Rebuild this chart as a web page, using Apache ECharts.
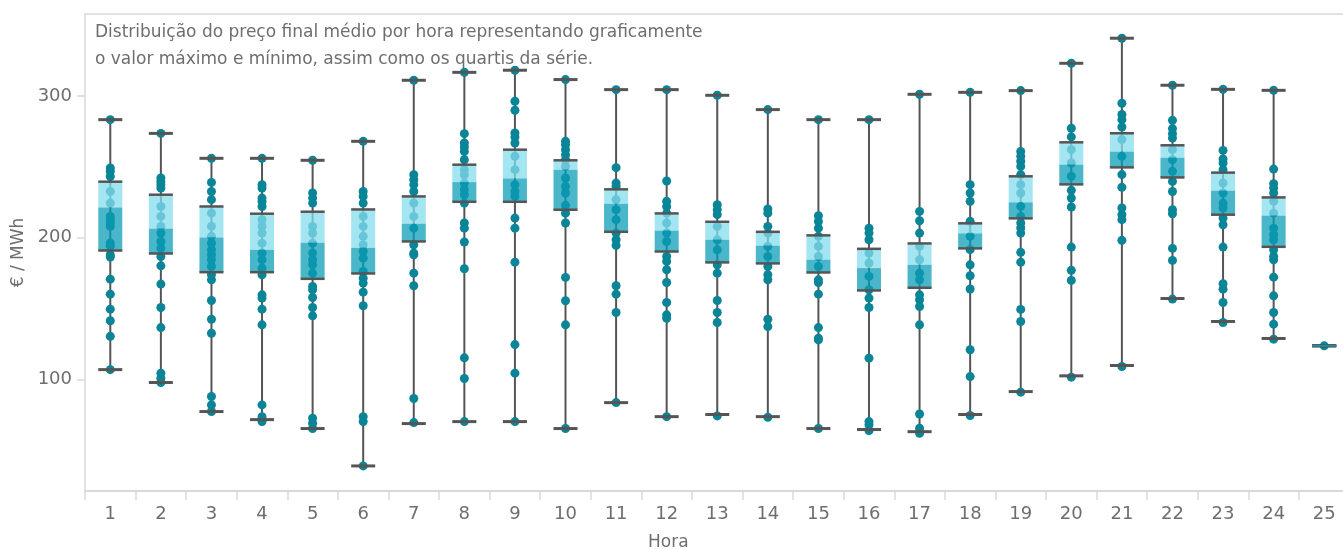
<!DOCTYPE html>
<html>
<head>
<meta charset="utf-8">
<script src="https://cdn.jsdelivr.net/npm/echarts@6/dist/echarts.min.js"></script>
<style>
html,body{margin:0;padding:0;background:#fff;}
#chart{width:1343px;height:550px;}
</style>
</head>
<body>
<div id="chart"></div>
<script>
const hours = ['1','2','3','4','5','6','7','8','9','10','11','12','13','14','15','16','17','18','19','20','21','22','23','24','25'];
const mins    = [106.9, 97.8, 77.3, 71.6, 65.3, 38.9, 68.8, 70.2, 70.2, 65.3, 83.6, 73.7, 75.2, 73.7, 65.3, 64.6, 63.1, 75.2, 91.4, 102.5, 109.8, 157.1, 140.9, 128.9, 123.7];
const q1s     = [191.0, 188.9, 175.7, 175.7, 171.0, 174.8, 197.4, 225.4, 225.4, 219.8, 204.2, 190.3, 182.6, 181.9, 175.5, 162.8, 164.7, 192.5, 213.7, 237.7, 249.7, 242.6, 216.3, 193.6, 123.7];
const medians = [221.4, 206.4, 200.2, 191.5, 196.5, 192.9, 209.9, 239.3, 241.9, 248.1, 224.0, 205.0, 198.6, 194.4, 184.5, 178.6, 180.9, 203.1, 225.0, 251.6, 260.8, 256.5, 233.2, 215.6, 123.7];
const q3s     = [239.6, 230.4, 222.1, 217.0, 218.4, 220.0, 229.2, 251.6, 262.2, 254.7, 234.2, 217.2, 211.3, 204.2, 201.7, 192.2, 196.0, 210.2, 243.4, 267.4, 273.8, 265.3, 246.0, 228.5, 123.7];
const maxs    = [283.4, 273.7, 256.1, 256.1, 254.7, 268.1, 311.2, 316.8, 318.3, 311.7, 304.6, 304.6, 300.6, 290.5, 283.4, 283.4, 301.3, 302.7, 303.9, 323.2, 340.9, 307.7, 304.8, 304.1, 123.7];
const dots = [
  [283.4, 249.3, 247, 243.3, 232.7, 224.5, 215, 212.7, 210.4, 208, 196.3, 194.1, 188, 186.4, 170.8, 160.2, 149.6, 141.4, 130.4, 106.9],
  [273.7, 242.2, 239.8, 237.5, 235.1, 222.1, 215.1, 208, 203.3, 197.4, 192.7, 186.8, 180.2, 167.3, 150.8, 136.6, 104.4, 100.8, 97.8],
  [256.1, 239.1, 232.7, 226.9, 217.4, 208, 201, 196.2, 191.5, 188, 184.5, 179.7, 173.9, 170.3, 155.7, 142.5, 132.6, 87.9, 82, 77.3],
  [256.1, 237.5, 235.1, 228, 225.7, 222.1, 212.7, 208, 203.3, 196.2, 189.2, 184.5, 178.6, 173.9, 159.7, 157.4, 149.6, 138.5, 82, 73.7, 70.2],
  [254.7, 231.6, 228, 224.5, 208, 203.3, 196.2, 189.2, 184.5, 180.9, 175, 165.6, 163.3, 157.8, 150.8, 144.9, 72.6, 69, 65.3],
  [268.1, 232.7, 229.2, 224.5, 215.1, 208, 201, 195.1, 190.3, 185.6, 176.2, 171.5, 168, 161.6, 152, 73.7, 70.2, 38.9],
  [311.2, 244.5, 241, 237.5, 232.7, 224.5, 215.1, 206.8, 195.1, 189.2, 188, 175, 166.1, 86.5, 69.5],
  [316.8, 273.5, 266.9, 264.1, 261, 255.1, 248.1, 244.5, 238.6, 233.9, 230.4, 224.5, 210.4, 206.8, 197, 178.1, 115.2, 100.6, 70.2],
  [318.3, 296.4, 290, 274, 271.1, 266.9, 257.5, 248.1, 237.5, 232.7, 229.2, 213.9, 206.8, 182.8, 124.6, 104.4, 70.2],
  [311.7, 268.1, 265.7, 262.2, 258.7, 255.1, 250.4, 242.2, 236.3, 231.6, 222.9, 217.4, 210.4, 172, 155.5, 138.5, 65.3],
  [304.6, 249.5, 238.6, 236.3, 226.9, 219.8, 212.7, 203.3, 198.6, 194.6, 166.1, 160.2, 147.2, 83.6],
  [304.6, 240.1, 225.7, 222.1, 217.4, 210.4, 203.3, 197.4, 186.8, 183.3, 177.4, 168.4, 154.3, 145.6, 143.2, 73.7],
  [300.6, 223.3, 219.8, 216.3, 208, 198.6, 191.5, 180.9, 175, 155.7, 147.2, 140.2, 74.2],
  [290.5, 220.3, 217.4, 208, 203.3, 193.9, 186.8, 179.7, 173.9, 170.3, 142.5, 137.3, 73.3],
  [283.4, 215.6, 211.5, 206.8, 201, 193.9, 186.8, 179.7, 170.3, 168.4, 160.2, 136.6, 129.1, 127.9, 65.3],
  [283.4, 206.8, 203.3, 198.6, 189.2, 182.1, 172.7, 163.3, 157.4, 150.8, 115, 70.2, 67.9, 63.8],
  [301.3, 218.6, 212, 203.3, 193.9, 184.5, 175, 170.3, 159.7, 156.2, 151.5, 138.5, 75.6, 65.5, 61.9],
  [302.7, 237.5, 231.6, 225.7, 211.6, 201, 191.6, 180.9, 173.2, 163.8, 120.9, 102, 74.5],
  [303.9, 261, 257.5, 254, 250.4, 244.6, 237.5, 231.6, 222.2, 215.1, 210.4, 206.9, 203.3, 189.7, 182.8, 149.4, 140.9, 91],
  [323.2, 277.3, 271.2, 262.2, 252.8, 243.4, 233.5, 228.1, 221.7, 193.4, 177, 169.9, 101.6],
  [340.9, 295, 287, 283.4, 278.2, 269.3, 257.5, 244.6, 235.6, 221, 216.3, 212.8, 198.2, 109.1],
  [307.7, 282.9, 277.1, 273.5, 270.4, 262.2, 255.1, 246.9, 239.8, 232.7, 219.8, 217, 192.5, 184, 156.7],
  [304.8, 261.7, 255.6, 252.8, 248.1, 238.6, 231.6, 224.5, 221, 213.9, 209.2, 193.4, 167.5, 163.7, 154.3, 140.2],
  [304.1, 248.5, 238.2, 235.1, 231.6, 225.7, 217.4, 206.8, 202.1, 198.6, 191.5, 186.8, 184.5, 172.2, 159, 147.2, 139, 128.4],
  [123.7]
];
const yTicks = [100, 200, 300];

const boxData = hours.map((h, i) => [i, mins[i], q1s[i], medians[i], q3s[i], maxs[i]]);
const dotData = [];
dots.forEach((arr, i) => arr.forEach(v => dotData.push([i, v])));

const LINE = '#555555';
const chart = echarts.init(document.getElementById('chart'), null, {renderer: 'canvas'});

function whiskerRender(params, api) {
  const i = api.value(0);
  const pMin = api.coord([i, api.value(1)]);
  const pMax = api.coord([i, api.value(5)]);
  return {
    type: 'line',
    shape: {x1: pMin[0], y1: pMin[1], x2: pMax[0], y2: pMax[1]},
    style: {stroke: LINE, lineWidth: 2}
  };
}

function boxRender(params, api) {
  const i = api.value(0);
  const pMin = api.coord([i, api.value(1)]);
  const pQ1 = api.coord([i, api.value(2)]);
  const pMed = api.coord([i, api.value(3)]);
  const pQ3 = api.coord([i, api.value(4)]);
  const pMax = api.coord([i, api.value(5)]);
  const bw = api.size([1, 0])[0] * 0.475;
  const x0 = pMed[0] - bw / 2;
  const children = [
    {type: 'rect', shape: {x: x0, y: pQ3[1], width: bw, height: pMed[1] - pQ3[1]},
     style: {fill: 'rgba(133,220,238,0.75)'}},
    {type: 'rect', shape: {x: x0, y: pMed[1], width: bw, height: pQ1[1] - pMed[1]},
     style: {fill: 'rgba(10,156,182,0.74)'}},
    {type: 'line', shape: {x1: x0, y1: pQ3[1], x2: x0 + bw, y2: pQ3[1]}, style: {stroke: LINE, lineWidth: 2.5}},
    {type: 'line', shape: {x1: x0, y1: pQ1[1], x2: x0 + bw, y2: pQ1[1]}, style: {stroke: LINE, lineWidth: 2.5}},
    {type: 'line', shape: {x1: x0, y1: pMax[1], x2: x0 + bw, y2: pMax[1]}, style: {stroke: LINE, lineWidth: 3}},
    {type: 'line', shape: {x1: x0, y1: pMin[1], x2: x0 + bw, y2: pMin[1]}, style: {stroke: LINE, lineWidth: 3}}
  ];
  if (api.value(2) === api.value(4)) {
    children.push({type: 'line', shape: {x1: x0, y1: pMed[1], x2: x0 + bw, y2: pMed[1]}, style: {stroke: '#0a9cb6', lineWidth: 1.5}});
  }
  return {type: 'group', children};
}

const FONT = '"DejaVu Sans", "Open Sans", sans-serif';
const TXT = '#6e6e6e';
const option = {
  backgroundColor: '#ffffff',
  animation: false,
  textStyle: {fontFamily: FONT},
  title: {
    text: 'Distribuição do preço final médio por hora representando graficamente\no valor máximo e mínimo, assim como os quartis da série.',
    left: 90, top: 14,
    textStyle: {fontFamily: FONT, fontSize: 17, fontWeight: 'normal', color: TXT, lineHeight: 27}
  },
  grid: {left: 85, right: -6.5, top: 14, bottom: 59, containLabel: false, outerBoundsMode: 'none'},
  xAxis: [{
    type: 'category',
    data: hours,
    boundaryGap: true,
    name: 'Hora',
    nameLocation: 'middle',
    nameGap: 43,
    nameTextStyle: {fontSize: 17, color: TXT, fontFamily: FONT, padding: [0, 98, 0, 0]},
    axisLine: {lineStyle: {color: '#d9d9d9', width: 2}},
    axisTick: {show: true, alignWithLabel: false, length: 9, lineStyle: {color: '#d9d9d9', width: 1.5}},
    axisLabel: {fontSize: 18, color: TXT, margin: 14, fontFamily: FONT, interval: 0},
    splitLine: {show: false}
  }, {
    type: 'category',
    data: hours,
    position: 'top',
    axisLine: {show: true, lineStyle: {color: '#d9d9d9', width: 1.5}},
    axisTick: {show: false},
    axisLabel: {show: false}
  }],
  yAxis: {
    type: 'value',
    min: 21.2,
    max: 358,
    name: '€ / MWh',
    nameLocation: 'middle',
    nameGap: 56,
    nameTextStyle: {fontSize: 17, color: TXT, fontFamily: FONT},
    axisLine: {show: true, lineStyle: {color: '#d9d9d9', width: 1.5}},
    axisTick: {show: true, length: 8, customValues: yTicks, lineStyle: {color: '#d9d9d9', width: 1.5}},
    axisLabel: {fontSize: 18, color: TXT, margin: 13, customValues: yTicks, fontFamily: FONT},
    splitLine: {show: false}
  },
  series: [
    {type: 'custom', name: 'whisker', renderItem: whiskerRender, data: boxData, z: 1,
     encode: {x: 0, y: [1, 5]}, silent: true},
    {type: 'scatter', name: 'dias', data: dotData, symbolSize: 9, z: 2,
     itemStyle: {color: '#0a8597', opacity: 1}},
    {type: 'custom', name: 'box', renderItem: boxRender, data: boxData, z: 3,
     encode: {x: 0, y: [1, 2, 3, 4, 5]}, silent: true}
  ]
};
chart.setOption(option);
</script>
</body>
</html>
